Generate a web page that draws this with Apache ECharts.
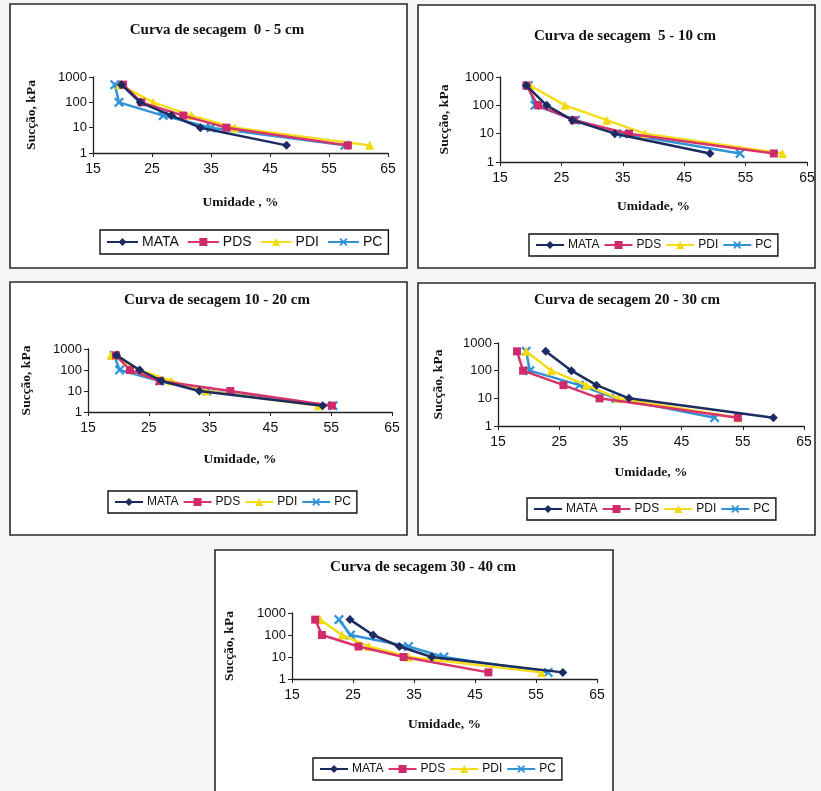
<!DOCTYPE html>
<html>
<head>
<meta charset="utf-8">
<script src="https://cdn.jsdelivr.net/npm/echarts@6/dist/echarts.min.js"></script>
<style>
html,body{margin:0;padding:0;background:#f6f6f6;}
#c{width:821px;height:791px;}
</style>
</head>
<body>
<div id="c"></div>
<script>
// ---- data ----
const seriesNames = ['MATA', 'PDS', 'PDI', 'PC'];
const chartTitles = ['Curva de secagem  0 - 5 cm', 'Curva de secagem  5 - 10 cm', 'Curva de secagem 10 - 20 cm', 'Curva de secagem 20 - 30 cm', 'Curva de secagem 30 - 40 cm'];
const xAxisNames = ['Umidade , %', 'Umidade, %', 'Umidade, %', 'Umidade, %', 'Umidade, %'];
const yAxisName = 'Sucção, kPa';
const xTicks = [15, 25, 35, 45, 55, 65];
const suction = [500, 100, 30, 10, 2];  // kPa

// Umidade (%) per series for each depth
const d0_5_MATA  = [19.8, 23.0, 28.3, 33.2, 47.8];
const d0_5_PDS   = [20.1, 23.2, 30.3, 37.6, 58.2];
const d0_5_PDI   = [19.5, 25.2, 31.7, 39.0, 61.9];
const d0_5_PC    = [18.7, 19.4, 26.9, 35.0, 57.7];

const d5_10_MATA = [19.3, 22.6, 26.8, 33.7, 49.2];
const d5_10_PDS  = [19.3, 21.2, 27.0, 36.0, 59.6];
const d5_10_PDI  = [19.9, 25.6, 32.4, 38.6, 61.0];
const d5_10_PC   = [19.6, 20.7, 27.3, 35.1, 54.1];

const d10_20_MATA = [19.7, 23.5, 27.1, 33.3, 53.6];
const d10_20_PDS  = [19.6, 21.9, 26.8, 38.4, 55.1];
const d10_20_PDI  = [18.8, 23.5, 28.7, 34.4, 52.9];
const d10_20_PC   = [19.3, 20.2, 26.8, 34.5, 55.3];

const d20_30_MATA = [22.8, 27.0, 31.1, 36.4, 60.0];
const d20_30_PDS  = [18.1, 19.1, 25.7, 31.6, 54.2];
const d20_30_PDI  = [19.6, 23.7, 29.4, 34.6, 54.2];
const d20_30_PC   = [19.6, 20.2, 28.3, 34.3, 50.4];

const d30_40_MATA = [24.5, 28.3, 32.6, 37.9, 59.4];
const d30_40_PDS  = [18.8, 19.9, 25.9, 33.3, 47.2];
const d30_40_PDI  = [19.6, 23.2, 27.6, 34.1, 55.9];
const d30_40_PC   = [22.7, 24.6, 34.1, 39.9, 57.0];

const depthData = [
  [d0_5_MATA, d0_5_PDS, d0_5_PDI, d0_5_PC],
  [d5_10_MATA, d5_10_PDS, d5_10_PDI, d5_10_PC],
  [d10_20_MATA, d10_20_PDS, d10_20_PDI, d10_20_PC],
  [d20_30_MATA, d20_30_PDS, d20_30_PDI, d20_30_PC],
  [d30_40_MATA, d30_40_PDS, d30_40_PDI, d30_40_PC]
];

// ---- layout / style ----
const boxes = [
  {x: 10,  y: 4,   w: 397, h: 264},
  {x: 418, y: 5,   w: 397, h: 263},
  {x: 10,  y: 282, w: 397, h: 253},
  {x: 418, y: 283, w: 397, h: 252},
  {x: 215, y: 550, w: 398, h: 250}
];
const grids = [
  {left: 93,  top: 77,  width: 295, height: 76},
  {left: 500, top: 77,  width: 307, height: 85},
  {left: 88,  top: 349, width: 304, height: 63},
  {left: 498, top: 343, width: 306, height: 83},
  {left: 292, top: 613, width: 305, height: 66}
];
const titlePos = [[212, 18], [620, 24], [212, 288], [622, 288], [418, 555]];
// [left, top, fontSize, iconWidth, itemGap]
const legendPos = [[100, 230, 14, 31, 8], [529, 234, 12, 28, 4], [108, 491, 12, 28, 4], [527, 498, 12, 28, 4], [313, 758, 12, 28, 4]];
const yNameGap = [54, 48, 54, 52, 55];
const xNameGap = [43, 38, 41, 40, 39];

const colors = ['#1d2b63', '#cf2a6c', '#f3da0c', '#2f93d6'];
const lineColors = ['#1d2b63', '#d8336a', '#f6dc1a', '#2f93d6'];
const xShape = 'path://M0,1.6L1.6,0L5,3.4L8.4,0L10,1.6L6.6,5L10,8.4L8.4,10L5,6.6L1.6,10L0,8.4L3.4,5Z';
const symbols = ['diamond', 'rect', 'triangle', xShape];
const symbolSizes = [9, 8, 9, 10];

const option = {
  animation: false,
  backgroundColor: '#f6f6f6',
  graphic: boxes.map(b => ({
    type: 'rect', z: -10, silent: true,
    shape: {x: b.x, y: b.y, width: b.w, height: b.h},
    style: {fill: '#ffffff', stroke: '#2a2a2a', lineWidth: 1.6}
  })),
  title: chartTitles.map((t, i) => ({
    text: t, left: titlePos[i][0], top: titlePos[i][1], textAlign: 'center',
    textStyle: {fontFamily: 'Liberation Serif', fontWeight: 'bold', fontSize: 15, color: '#111'}
  })),
  legend: legendPos.map((p, i) => ({
    data: seriesNames, left: p[0], top: p[1], orient: 'horizontal',
    itemWidth: p[3], itemHeight: 10, itemGap: p[4], padding: [5, 6],
    borderColor: '#111', borderWidth: 1.4, backgroundColor: '#fff',
    textStyle: {fontFamily: 'Liberation Sans', fontSize: p[2], color: '#111', padding: [0, 0, 0, -1]},
    selectedMode: false
  })),
  grid: grids.map(g => Object.assign({containLabel: false}, g)),
  xAxis: grids.map((g, i) => ({
    type: 'value', gridIndex: i, min: xTicks[0], max: xTicks[xTicks.length - 1], interval: 10,
    name: xAxisNames[i], nameLocation: 'middle', nameGap: xNameGap[i],
    nameTextStyle: {fontFamily: 'Liberation Serif', fontWeight: 'bold', fontSize: 13.5, color: '#111'},
    axisLine: {lineStyle: {color: '#222', width: 1.3}},
    axisTick: {show: true, length: 4, lineStyle: {color: '#222'}},
    axisLabel: {fontFamily: 'Liberation Sans', fontSize: 14, color: '#111', margin: 9},
    splitLine: {show: false}
  })),
  yAxis: grids.map((g, i) => ({
    type: 'log', logBase: 10, gridIndex: i, min: 1, max: 1000,
    name: yAxisName, nameLocation: 'middle', nameRotate: 90, nameGap: yNameGap[i],
    nameTextStyle: {fontFamily: 'Liberation Serif', fontWeight: 'bold', fontSize: 13.5, color: '#111'},
    axisLine: {show: true, lineStyle: {color: '#222', width: 1.3}},
    axisTick: {show: true, length: 4, lineStyle: {color: '#222'}},
    axisLabel: {fontFamily: 'Liberation Sans', fontSize: 13, color: '#111', margin: 6,
      formatter: v => String(Math.round(v))},
    splitLine: {show: false}, minorTick: {show: false}
  })),
  series: []
};

depthData.forEach((group, gi) => {
  group.forEach((xs, si) => {
    option.series.push({
      type: 'line', name: seriesNames[si], xAxisIndex: gi, yAxisIndex: gi,
      data: xs.map((x, k) => [x, suction[k]]),
      symbol: symbols[si], symbolSize: symbolSizes[si],
      itemStyle: {color: colors[si]},
      lineStyle: {color: lineColors[si], width: 2.5},
      z: 10 - si
    });
  });
});

const chart = echarts.init(document.getElementById('c'), null, {renderer: 'canvas'});
chart.setOption(option);
</script>
</body>
</html>
